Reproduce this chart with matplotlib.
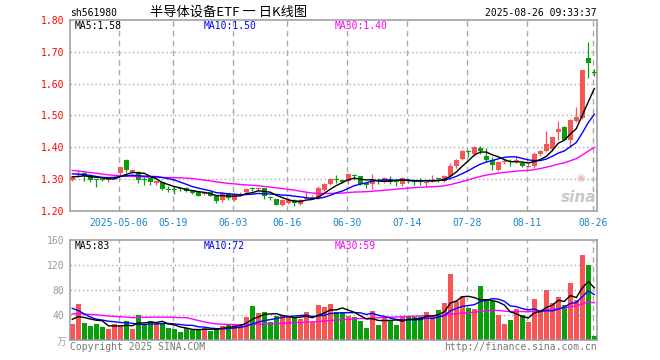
import matplotlib
matplotlib.use("Agg")
import matplotlib.pyplot as plt
import numpy as np
import pandas as pd

# ---------------- data ----------------
code = "sh561980"
title = "半导体设备ETF 一 日K线图"
stamp = "2025-08-26 09:33:37"

tick_idx = [8, 17, 27, 36, 46, 56, 66, 76, 87]
tick_labels = ["2025-05-06", "05-19", "06-03", "06-16", "06-30",
               "07-14", "07-28", "08-11", "08-26"]

opens = [1.296, 1.314, 1.320, 1.308, 1.298, 1.300, 1.296, 1.303, 1.319, 1.358,
         1.321, 1.323, 1.300, 1.304, 1.288, 1.290, 1.267, 1.268, 1.270, 1.272,
         1.264, 1.259, 1.252, 1.259, 1.247, 1.233, 1.255, 1.233, 1.251, 1.258,
         1.270, 1.267, 1.271, 1.242, 1.236, 1.219, 1.224, 1.234, 1.221, 1.237,
         1.238, 1.240, 1.266, 1.285, 1.299, 1.297, 1.292, 1.311, 1.309, 1.285,
         1.283, 1.297, 1.290, 1.299, 1.294, 1.285, 1.297, 1.294, 1.293, 1.289,
         1.295, 1.303, 1.292, 1.310, 1.340, 1.362, 1.389, 1.377, 1.397, 1.373,
         1.361, 1.329, 1.352, 1.357, 1.357, 1.351, 1.338, 1.340, 1.377, 1.389,
         1.394, 1.447, 1.463, 1.424, 1.482, 1.492, 1.680, 1.637]
highs = [1.310, 1.328, 1.321, 1.310, 1.300, 1.303, 1.305, 1.310, 1.339, 1.362,
         1.330, 1.325, 1.306, 1.307, 1.296, 1.292, 1.277, 1.276, 1.275, 1.275,
         1.266, 1.261, 1.260, 1.261, 1.248, 1.259, 1.257, 1.257, 1.258, 1.270,
         1.274, 1.272, 1.272, 1.246, 1.237, 1.237, 1.239, 1.236, 1.238, 1.260,
         1.248, 1.278, 1.286, 1.303, 1.313, 1.300, 1.320, 1.316, 1.310, 1.288,
         1.316, 1.302, 1.306, 1.309, 1.297, 1.305, 1.299, 1.299, 1.304, 1.294,
         1.313, 1.304, 1.313, 1.349, 1.362, 1.391, 1.392, 1.404, 1.405, 1.396,
         1.368, 1.357, 1.362, 1.362, 1.370, 1.353, 1.350, 1.385, 1.392, 1.452,
         1.433, 1.481, 1.465, 1.488, 1.526, 1.643, 1.730, 1.645]
lows = [1.292, 1.305, 1.292, 1.290, 1.274, 1.292, 1.289, 1.300, 1.309, 1.322,
        1.318, 1.288, 1.282, 1.282, 1.281, 1.266, 1.258, 1.254, 1.263, 1.258,
        1.252, 1.245, 1.249, 1.245, 1.225, 1.226, 1.234, 1.230, 1.246, 1.256,
        1.262, 1.261, 1.236, 1.234, 1.217, 1.214, 1.220, 1.215, 1.218, 1.236,
        1.236, 1.238, 1.262, 1.281, 1.287, 1.286, 1.285, 1.297, 1.280, 1.271,
        1.268, 1.285, 1.287, 1.283, 1.279, 1.279, 1.286, 1.281, 1.281, 1.274,
        1.289, 1.291, 1.290, 1.307, 1.335, 1.358, 1.370, 1.372, 1.377, 1.354,
        1.328, 1.325, 1.346, 1.341, 1.350, 1.337, 1.336, 1.335, 1.372, 1.386,
        1.389, 1.423, 1.421, 1.405, 1.478, 1.489, 1.618, 1.623]
closes = [1.306, 1.316, 1.309, 1.298, 1.296, 1.297, 1.302, 1.306, 1.338, 1.328,
          1.328, 1.296, 1.298, 1.289, 1.292, 1.268, 1.265, 1.266, 1.268, 1.262,
          1.256, 1.247, 1.256, 1.247, 1.232, 1.255, 1.240, 1.254, 1.253, 1.268,
          1.268, 1.270, 1.245, 1.240, 1.219, 1.233, 1.235, 1.224, 1.235, 1.240,
          1.243, 1.272, 1.284, 1.299, 1.297, 1.290, 1.317, 1.309, 1.284, 1.283,
          1.296, 1.295, 1.303, 1.290, 1.292, 1.302, 1.295, 1.292, 1.291, 1.291,
          1.298, 1.301, 1.310, 1.340, 1.360, 1.389, 1.385, 1.401, 1.387, 1.361,
          1.345, 1.354, 1.357, 1.355, 1.359, 1.340, 1.340, 1.378, 1.388, 1.409,
          1.431, 1.456, 1.424, 1.486, 1.494, 1.642, 1.665, 1.635]
volumes = [25.6, 57.6, 27.2, 22.4, 25.6, 20.8, 17.6, 25.6, 22.9, 30.4,
           17.6, 40.0, 25.1, 30.4, 26.7, 27.2, 19.2, 17.6, 13.3, 18.7,
           16.0, 17.6, 19.7, 14.4, 18.7, 22.9, 25.1, 25.1, 25.1, 36.3,
           54.4, 43.7, 45.3, 28.8, 38.4, 40.0, 36.3, 35.2, 33.1, 45.3,
           28.3, 56.0, 53.3, 57.6, 45.3, 44.3, 38.4, 36.3, 30.4, 19.2,
           46.4, 24.0, 35.7, 31.0, 24.0, 36.3, 38.4, 36.3, 36.3, 44.8,
           36.3, 48.0, 59.7, 105.6, 62.4, 70.4, 51.7, 49.6, 86.4, 65.6,
           62.4, 40.0, 25.6, 32.0, 49.6, 40.0, 29.3, 65.6, 44.3, 80.0,
           59.2, 68.8, 56.0, 91.7, 64.0, 136.0, 120.0, 6.4]

# closes / volumes of the 29 sessions before the window (needed for the MAs)
pre_closes = [1.37, 1.38, 1.37, 1.36, 1.38, 1.37, 1.36, 1.37, 1.36, 1.35,
              1.33, 1.32, 1.31, 1.30, 1.29, 1.28, 1.27, 1.28, 1.29, 1.30,
              1.32, 1.33, 1.32, 1.33, 1.325, 1.31, 1.30, 1.31, 1.307]
pre_volumes = [45, 44, 46, 45, 44, 46, 45, 44, 45, 46,
               24, 25, 23, 24, 25, 24, 23, 24, 25, 80,
               90, 85, 70, 60, 35, 36, 34, 35, 35]

price_ticks = [1.20, 1.30, 1.40, 1.50, 1.60, 1.70, 1.80]
vol_ticks = [40, 80, 120, 160]

# ---------------- style ----------------
RED = "#F55555"
GREEN = "#0A9E0A"
GRID = "#AAAAAA"
FRAME = "#999999"
MONO = "DejaVu Sans Mono"
CJK = ["Noto Sans CJK SC", "DejaVu Sans"]
FS = 7

W, H = 660, 360
fig = plt.figure(figsize=(6.6, 3.6), dpi=100)
fig.patch.set_facecolor("white")


def px_axes(l, t, r, b):
    return fig.add_axes([l / W, 1 - b / H, (r - l) / W, (b - t) / H])


def ftext(x, y, s, **kw):
    fig.text(x / W, 1 - y / H, s, **kw)


n = len(closes)
x = np.arange(n)
o = np.array(opens)
c = np.array(closes)
hi = np.array(highs)
lo = np.array(lows)
v = np.array(volumes)

allc = pd.Series(pre_closes + closes)
allv = pd.Series(pre_volumes + volumes)
ma = {k: allc.rolling(k).mean().to_numpy()[-n:] for k in (5, 10, 30)}
vma = {k: allv.rolling(k).mean().to_numpy()[-n:] for k in (5, 10, 30)}

up = c >= o
cols = np.where(up, RED, GREEN)

ax = px_axes(70, 20, 597, 210.7)
axv = px_axes(70, 240, 597, 340)

xl = (-0.38, 87.45)
grid_x = [i - 0.27 for i in tick_idx]

for a in (ax, axv):
    a.set_xlim(*xl)
    for s in a.spines.values():
        s.set_color(FRAME)
        s.set_linewidth(1.1)
    for gx in grid_x:
        a.axvline(gx, color=GRID, lw=1.0, ls=(0, (4, 3)), zorder=0)
    a.tick_params(length=0)

# price panel
ax.set_ylim(1.20, 1.80)
for t in price_ticks[1:-1]:
    ax.axhline(t, color=GRID, lw=1.0, ls=(0, (1, 2)), zorder=0)
ax.vlines(x, lo, hi, colors=cols, lw=0.9, zorder=2)
diff = np.abs(c - o)
minh = 0.0032
body_h = np.maximum(diff, minh)
body_b = np.where(diff < minh, (o + c) / 2 - minh / 2, np.minimum(o, c))
ax.bar(x, body_h, bottom=body_b, width=0.75, color=cols, linewidth=0, zorder=3)
ax.plot(x, ma[30], color="#FF00FF", lw=1.0, zorder=4)
ax.plot(x, ma[10], color="#0000FF", lw=1.0, zorder=4)
ax.plot(x, ma[5], color="black", lw=1.0, zorder=4)
ax.set_yticks(price_ticks)
ax.set_yticklabels([f"{t:.2f}" for t in price_ticks], color="#FF0000",
                   fontsize=FS, family=MONO)
ax.tick_params(axis="y", pad=4)
ax.set_xticks(grid_x)
ax.set_xticklabels(tick_labels, color="#1A86D0", fontsize=FS, family=MONO)
ax.tick_params(axis="x", pad=5)

# sina watermark
ax.text(0.965, 0.07, "sina", transform=ax.transAxes, ha="center", va="center",
        fontsize=11, fontweight="bold", style="italic", color="#C8C8C8",
        family="DejaVu Sans", zorder=1)
ax.text(0.97, 0.17, "◉", transform=ax.transAxes, ha="center", va="center",
        fontsize=7, color="#F2B8B8", family="DejaVu Sans", zorder=1)

# volume panel
axv.set_ylim(0, 160)
for t in vol_ticks[:-1]:
    axv.axhline(t, color=GRID, lw=1.0, ls=(0, (1, 2)), zorder=0)
axv.bar(x, v, width=0.84, color=cols, linewidth=0, zorder=2)
axv.plot(x, vma[30], color="#FF00FF", lw=1.0, zorder=4)
axv.plot(x, vma[10], color="#0000FF", lw=1.0, zorder=4)
axv.plot(x, vma[5], color="black", lw=1.0, zorder=4)
axv.set_yticks(vol_ticks)
axv.set_yticklabels([str(t) for t in vol_ticks], color="#999999",
                    fontsize=FS, family=MONO)
axv.tick_params(axis="y", pad=4)
axv.set_xticks([])

# texts
ftext(70, 13, code, fontsize=FS, family=MONO, va="center", ha="left")
ftext(229, 12.5, title, fontsize=9.5, family=CJK, va="center", ha="center")
ftext(597, 13, stamp, fontsize=FS, family=MONO, va="center", ha="right")

ftext(75, 26, f"MA5:{ma[5][-1]:.2f}", fontsize=FS, family=MONO, va="center", color="black")
ftext(204, 26, f"MA10:{ma[10][-1]:.2f}", fontsize=FS, family=MONO, va="center", color="#0000FF")
ftext(335, 26, f"MA30:{ma[30][-1]:.2f}", fontsize=FS, family=MONO, va="center", color="#FF00FF")

ftext(75, 246, f"MA5:{int(vma[5][-1])}", fontsize=FS, family=MONO, va="center", color="black")
ftext(204, 246, f"MA10:{int(vma[10][-1])}", fontsize=FS, family=MONO, va="center", color="#0000FF")
ftext(335, 246, f"MA30:{int(vma[30][-1])}", fontsize=FS, family=MONO, va="center", color="#FF00FF")

ftext(66, 342, "万", fontsize=7, family=CJK, va="center", ha="right", color="#AAAAAA")
ftext(70, 347, "Copyright 2025 SINA.COM", fontsize=FS, family=MONO, va="center",
      ha="left", color="#777777")
ftext(597, 347, "http://finance.sina.com.cn", fontsize=FS, family=MONO, va="center",
      ha="right", color="#777777")

fig.savefig("out.png", dpi=100, facecolor="white")
